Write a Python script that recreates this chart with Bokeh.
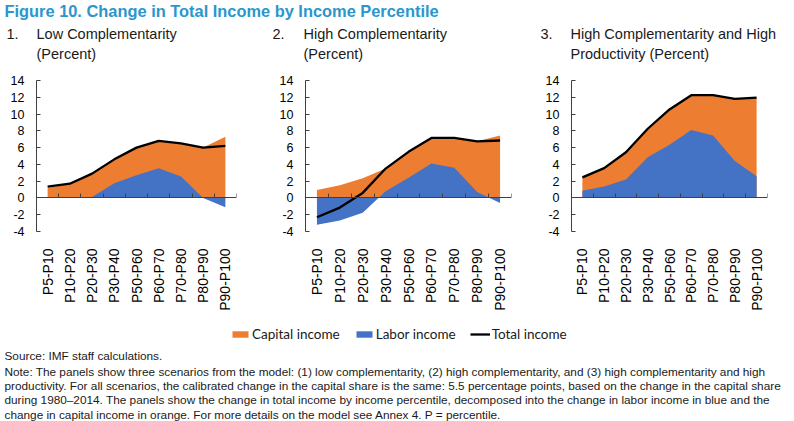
import numpy as np
from math import pi
from bokeh.plotting import figure
from bokeh.models import Range1d, FixedTicker, LinearAxis, Label, Legend, LegendItem
from bokeh.layouts import column, row
from bokeh.embed import file_html
from bokeh.resources import INLINE

# ---------------- data ----------------
categories = ["P5-P10", "P10-P20", "P20-P30", "P30-P40", "P50-P60",
              "P60-P70", "P70-P80", "P80-P90", "P90-P100"]
y_ticks = [-4, -2, 0, 2, 4, 6, 8, 10, 12, 14]

# Panel 1: Low complementarity
labor_low = [0.0, 0.0, 0.1, 1.75, 2.7, 3.55, 2.55, 0.0, -1.1]
capital_low = [1.2, 1.7, 2.8, 2.85, 3.3, 3.25, 3.95, 6.0, 7.3]
total_low = [1.35, 1.7, 2.9, 4.6, 6.0, 6.8, 6.5, 6.0, 6.2]

# Panel 2: High complementarity
labor_high = [-3.2, -2.7, -1.75, 0.8, 2.4, 4.1, 3.6, 0.7, -0.6]
capital_high = [0.95, 1.5, 2.35, 2.7, 3.1, 3.05, 3.55, 6.05, 7.45]
total_high = [-2.3, -1.15, 0.6, 3.5, 5.5, 7.15, 7.15, 6.75, 6.85]

# Panel 3: High complementarity and high productivity
labor_prod = [0.85, 1.35, 2.2, 4.85, 6.35, 8.1, 7.45, 4.4, 2.6]
capital_prod = [1.6, 2.2, 3.25, 3.4, 4.2, 4.15, 4.8, 7.4, 9.35]
total_prod = [2.45, 3.55, 5.45, 8.25, 10.55, 12.25, 12.25, 11.8, 11.95]

title_text = "Figure 10. Change in Total Income by Income Percentile"
headers = [("1.", "Low Complementarity", "(Percent)"),
           ("2.", "High Complementarity", "(Percent)"),
           ("3.", "High Complementarity and High", "Productivity (Percent)")]
legend_labels = ["Capital income", "Labor income", "Total income"]
source_text = "Source: IMF staff calculations."
note_lines = [
    "Note: The panels show three scenarios from the model: (1) low complementarity, (2) high complementarity, and (3) high complementarity and high",
    "productivity. For all scenarios, the calibrated change in the capital share is the same: 5.5 percentage points, based on the change in the capital share",
    "during 1980\u20132014. The panels show the change in total income by income percentile, decomposed into the change in labor income in blue and the",
    "change in capital income in orange. For more details on the model see Annex 4. P = percentile.",
]

# ---------------- style ----------------
ORANGE = "#ED7D31"
BLUE = "#4472C4"
AXIS = "#404040"
FONT = "Liberation Sans"
TEXT = "#1a1a1a"
TITLE_C = "#2C96CC"


def make_panel(labor, capital, total, width, height, left, right, bottom, top=14):
    p = figure(width=width, height=height,
               x_range=Range1d(-0.5, 8.5), y_range=Range1d(-4, 14),
               output_backend="svg", toolbar_location=None,
               min_border_left=left, min_border_right=right,
               min_border_top=top, min_border_bottom=bottom)
    p.grid.visible = False
    p.outline_line_color = None
    p.background_fill_color = "white"

    xs = np.arange(len(categories))
    lab = np.array(labor, dtype=float)
    cap = np.array(capital, dtype=float)
    stack_top = np.maximum(lab, 0) + cap

    p.varea(x=xs, y1=0, y2=stack_top, fill_color=ORANGE)
    p.varea(x=xs, y1=0, y2=lab, fill_color=BLUE)
    p.line(xs, total, line_color="black", line_width=2.3, line_join="round")

    # category axis (labels only)
    xa = p.xaxis[0]
    xa.ticker = FixedTicker(ticks=list(range(len(categories))))
    xa.major_label_overrides = {i: c for i, c in enumerate(categories)}
    xa.major_label_orientation = pi / 2
    xa.axis_line_color = None
    xa.major_tick_line_color = None
    xa.minor_tick_line_color = None
    xa.major_label_standoff = 11
    xa.major_label_text_font = FONT
    xa.major_label_text_font_size = "14px"
    xa.major_label_text_color = "black"

    # zero line axis with ticks between categories
    za = LinearAxis(fixed_location=0,
                    ticker=FixedTicker(ticks=[i + 0.5 for i in range(len(categories))]),
                    major_tick_in=4, major_tick_out=0,
                    minor_tick_line_color=None,
                    axis_line_color=AXIS, major_tick_line_color=AXIS,
                    major_label_text_color=None, major_label_text_font_size="1px",
                    major_label_standoff=0)
    p.add_layout(za, "below")

    ya = p.yaxis[0]
    ya.ticker = FixedTicker(ticks=y_ticks)
    ya.major_label_overrides = {t: str(t) for t in y_ticks}
    ya.major_tick_in = 4
    ya.major_tick_out = 0
    ya.minor_tick_line_color = None
    ya.axis_line_color = AXIS
    ya.major_tick_line_color = AXIS
    ya.major_label_standoff = 12
    ya.major_label_text_font = FONT
    ya.major_label_text_font_size = "12.5px"
    ya.major_label_text_color = "black"
    return p


def text_canvas(width, height):
    f = figure(width=width, height=height,
               x_range=Range1d(0, width), y_range=Range1d(height, 0),
               x_axis_location=None, y_axis_location=None,
               output_backend="svg", toolbar_location=None, min_border=0)
    f.grid.visible = False
    f.outline_line_color = None
    return f


def add_label(f, x, y, text, size, color=TEXT, style="normal", font=FONT):
    f.add_layout(Label(x=x, y=y, text=text, text_font=font, text_font_size=size,
                       text_font_style=style, text_color=color,
                       text_baseline="middle", text_align="left"))


W = 794

# ---------------- top: title + headers ----------------
T = text_canvas(W, 66)
add_label(T, 4, 10, title_text, "16.4px", color=TITLE_C, style="bold")
hx = [(6, 36), (272, 303), (540, 570)]
for (nx, tx), (num, l1, l2) in zip(hx, headers):
    add_label(T, nx, 33, num, "14.5px")
    add_label(T, tx, 33, l1, "14.5px")
    add_label(T, tx, 53, l2, "14.5px")

# ---------------- panels ----------------
P1 = make_panel(labor_low, capital_low, total_low, 270, 252, 36, 34, 87)
P2 = make_panel(labor_high, capital_high, total_high, 265, 252, 35, 24, 83)
P3 = make_panel(labor_prod, capital_prod, total_prod, 259, 252, 36, 27, 87)

# ---------------- bottom: legend + notes ----------------
BH = 103
B = text_canvas(W, BH)
# legend swatches use panel-1 series, drawn on an off-screen range
B.extra_x_ranges = {"swatch": Range1d(1000, 1001)}
xs = np.arange(len(categories))
r_cap = B.varea(x=xs, y1=0, y2=capital_low, fill_color=ORANGE, x_range_name="swatch")
r_lab = B.varea(x=xs, y1=0, y2=labor_low, fill_color=BLUE, x_range_name="swatch")
r_tot = B.line(x=xs, y=total_low, line_color="black", line_width=2.3, x_range_name="swatch")
legend = Legend(items=[LegendItem(label=legend_labels[0], renderers=[r_cap]),
                       LegendItem(label=legend_labels[1], renderers=[r_lab]),
                       LegendItem(label=legend_labels[2], renderers=[r_tot])],
                orientation="horizontal", location=(230, BH - 16 - 8),
                spacing=14, label_standoff=2, glyph_width=20, glyph_height=8,
                padding=0, margin=0, border_line_color=None,
                background_fill_alpha=0, label_text_font="Lato",
                label_text_font_size="13.5px", label_height=14,
                label_text_color=TEXT)
B.add_layout(legend)

add_label(B, 4, 37, source_text, "11.8px")
for i, line in enumerate(note_lines):
    add_label(B, 4, 53 + 14.4 * i, line, "11.8px")

layout = column(T, row(P1, P2, P3), B)

open("out.html", "w").write(file_html(layout, INLINE))
